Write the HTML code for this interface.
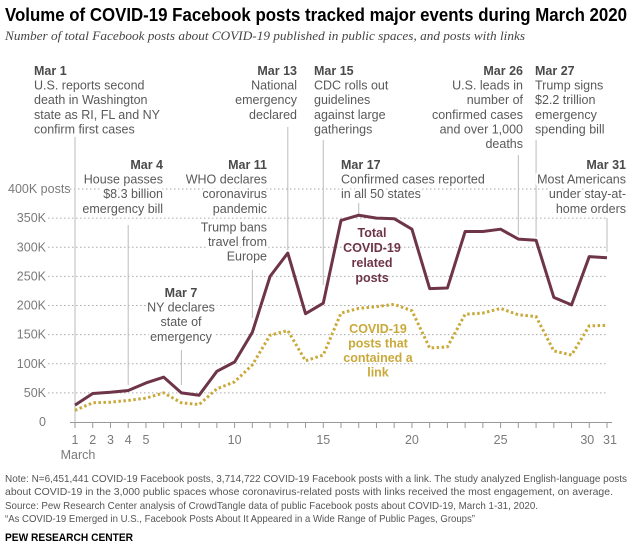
<!DOCTYPE html>
<html><head><meta charset="utf-8"><style>
body{margin:0;background:#fff;}
svg{display:block;font-family:"Liberation Sans",sans-serif;}
.ann{font-size:12.5px;fill:#595959;stroke:#fff;stroke-width:5px;paint-order:stroke;stroke-linejoin:round;}
.dt{font-weight:bold;fill:#4a4a4a;}
.tick{font-size:12.5px;fill:#7a7a7a;}
.foot{font-size:10.5px;fill:#555;}
</style></head><body>
<svg id="chart" width="637" height="544">
<text x="5" y="21" font-size="18" font-weight="bold" fill="#000" textLength="622" lengthAdjust="spacingAndGlyphs">Volume of COVID-19 Facebook posts tracked major events during March 2020</text>
<text x="5" y="40" font-size="12.5" font-style="italic" fill="#444" font-family="Liberation Serif,serif" textLength="520" lengthAdjust="spacingAndGlyphs">Number of total Facebook posts about COVID-19 published in public spaces, and posts with links</text>
<g id="grid"></g>
<g id="annlines"></g>
<g id="anns"></g>
<g id="series"></g>
<g id="xaxis"></g>
<text x="372" y="237" text-anchor="middle" font-size="12.5" font-weight="bold" fill="#6e3448"><tspan x="372">Total</tspan><tspan x="372" dy="15">COVID-19</tspan><tspan x="372" dy="15">related</tspan><tspan x="372" dy="15">posts</tspan></text>
<text x="378" y="333" text-anchor="middle" font-size="12.5" font-weight="bold" fill="#c9a93a"><tspan x="378">COVID-19</tspan><tspan x="378" dy="14.5">posts that</tspan><tspan x="378" dy="14.5">contained a</tspan><tspan x="378" dy="14.5">link</tspan></text>
<g>
<text class="foot" x="5" y="482" textLength="622" lengthAdjust="spacingAndGlyphs">Note: N=6,451,441 COVID-19 Facebook posts, 3,714,722 COVID-19 Facebook posts with a link. The study analyzed English-language posts</text>
<text class="foot" x="5" y="495" textLength="608" lengthAdjust="spacingAndGlyphs">about COVID-19 in the 3,000 public spaces whose coronavirus-related posts with links received the most engagement, on average.</text>
<text class="foot" x="5" y="509" textLength="533" lengthAdjust="spacingAndGlyphs">Source: Pew Research Center analysis of CrowdTangle data of public Facebook posts about COVID-19, March 1-31, 2020.</text>
<text class="foot" x="5" y="522" textLength="470" lengthAdjust="spacingAndGlyphs">“As COVID-19 Emerged in U.S., Facebook Posts About It Appeared in a Wide Range of Public Pages, Groups”</text>
<text x="5" y="541" font-size="11" font-weight="bold" fill="#000" textLength="128" lengthAdjust="spacingAndGlyphs">PEW RESEARCH CENTER</text>
</g>
</svg>
<script>
const days=[1,2,3,4,5,6,7,8,9,10,11,12,13,14,15,16,17,18,19,20,21,22,23,24,25,26,27,28,29,30,31];
const totalPosts=[29,49,51,54,67,77,50,46,87,103,154,250,290,186,204,346,355,350,349,331,229,230,327,327,331,314,312,214,201,284,282];
const linkPosts=[20,33,34,37,41,50,33,30,57,69,98,149,157,105,115,187,195,198,202,191,127,129,185,187,195,184,181,122,115,165,166];
const yTicks=[0,50,100,150,200,250,300,350,400];
const yTickLabels=["0","50K","100K","150K","200K","250K","300K","350K","400K posts"];
const xTickLabels=[1,2,3,4,5,10,15,20,25,30,31];
const NS="http://www.w3.org/2000/svg";
function x(d){return 75+(d-1)*(532/30);}
function y(v){return 422-v*(233/400);}
function el(t,a,p){const e=document.createElementNS(NS,t);for(const k in a)e.setAttribute(k,a[k]);p.appendChild(e);return e;}
const grid=document.getElementById('grid');
yTicks.forEach((v,i)=>{
  if(v>0){const l=el('line',{x1:i==8?66:48,x2:607,y1:y(v),y2:y(v),stroke:'#aaa','stroke-width':1,'stroke-dasharray':'1.5,2.5'},grid);
  
  }
  const t=el('text',{x:i==8?8:46,y:y(v)+4,'text-anchor':i==8?'start':'end',class:'tick'},grid);
  t.textContent=yTickLabels[i];
  
  
});
const al=document.getElementById('annlines');
[[1,137,422],[4,225,385],[7,350,385],[11,270,318],[13,127,250],[15,140,285],[17,203,215],[26,155,235],[27,140,237],[31,218,252]].forEach(a=>{
  const l=el('line',{x1:x(a[0]),x2:x(a[0]),y1:a[1],y2:a[2],stroke:'#bbb','stroke-width':1},al);
  
  
});
const anns=[
 [34,'start',75,['Mar 1','U.S. reports second','death in Washington','state as RI, FL and NY','confirm first cases']],
 [163,'end',169,['Mar 4','House passes','$8.3 billion','emergency bill']],
 [181,'middle',297,['Mar 7','NY declares','state of','emergency']],
 [267,'end',169,['Mar 11','WHO declares','coronavirus','pandemic','','Trump bans','travel from','Europe']],
 [297,'end',75,['Mar 13','National','emergency','declared']],
 [314,'start',75,['Mar 15','CDC rolls out','guidelines','against large','gatherings']],
 [341,'start',169,['Mar 17','Confirmed cases reported','in all 50 states']],
 [523,'end',75,['Mar 26','U.S. leads in','number of','confirmed cases','and over 1,000','deaths']],
 [535,'start',75,['Mar 27','Trump signs','$2.2 trillion','emergency','spending bill']],
 [626,'end',169,['Mar 31','Most Americans','under stay-at-','home orders']]
];
const ag=document.getElementById('anns');
anns.forEach(a=>{
  const g=el('g',{},ag);
  
  
  let yy=a[2];
  a[3].forEach((s,i)=>{
    if(s===''){yy+=4;return;}
    const t=el('text',{x:a[0],y:yy,'text-anchor':a[1],class:i==0?'ann dt':'ann'},g);
    t.textContent=s;
    yy+=14.6;
  });
});
const sg=document.getElementById('series');
const p1=el('polyline',{points:days.map((d,i)=>x(d)+','+y(totalPosts[i])).join(' '),fill:'none',stroke:'#6e3448','stroke-width':3,'stroke-linejoin':'round'},sg);


const p2=el('polyline',{points:days.map((d,i)=>x(d)+','+y(linkPosts[i])).join(' '),fill:'none',stroke:'#c9a93a','stroke-width':3,'stroke-dasharray':'2.5,2.5'},sg);


const xa=document.getElementById('xaxis');
el('line',{x1:70,x2:612,y1:422.5,y2:422.5,stroke:'#999','stroke-width':1},xa);
days.forEach(d=>{el('line',{x1:x(d),x2:x(d),y1:422,y2:428,stroke:'#999','stroke-width':1},xa);});
xTickLabels.forEach(d=>{
  const t=el('text',{x:x(d)+(d==30?-2:d==31?3:0),y:444,'text-anchor':'middle',class:'tick'},xa);
  t.textContent=d;
  
  
});
const m=el('text',{x:x(1)+3,y:459,'text-anchor':'middle',class:'tick','font-size':'11'},xa);
m.textContent='March';


</script>
</body></html>
